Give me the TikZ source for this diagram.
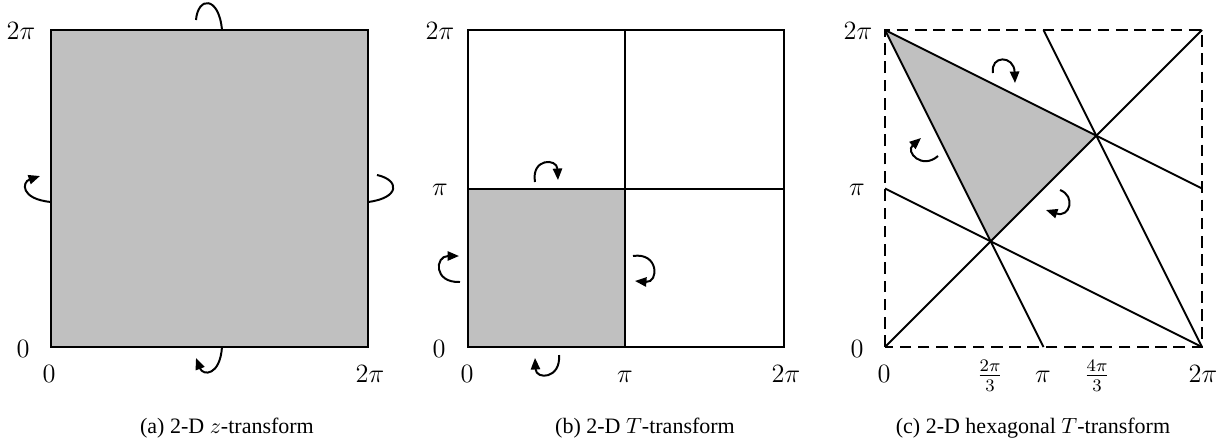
\documentclass[tikz,border=0pt]{standalone}
\usepackage[no-math]{fontspec}
\setmainfont{Liberation Serif}
\usetikzlibrary{arrows.meta,calc}
\definecolor{greyfill}{RGB}{192,192,192}
\begin{document}
\begin{tikzpicture}[x=0.4545pt,y=-0.4545pt,
  edge/.style={line width=0.9pt},
  rot/.style={line width=0.9pt},
  rota/.style={line width=0.9pt,-{Triangle[length=5.2pt,width=4.2pt]}},
  lab/.style={font=\fontsize{12}{14}\selectfont, anchor=base, inner sep=0pt},
  captext/.style={font=\fontsize{10}{12}\selectfont, anchor=base, inner sep=0pt},
  dashborder/.style={line width=0.9pt, dash pattern=on 5.3pt off 3pt}]
\useasboundingbox (0,0) rectangle (1221,442);

% ---------------- (a) ----------------
\coordinate (a00) at (51,347);
\coordinate (a22) at (368,30);
\fill[greyfill] (a00) rectangle (a22);
\draw[edge] (a00) rectangle (a22);
\node[lab] (aly2) at (21,39) {$2\pi$};
\node[lab] (aly0) at (23,357) {$0$};
\node[lab] (alx0) at (49,382) {$0$};
\node[lab] (alx2) at (370,382) {$2\pi$};
\draw[rot] (222,30) .. controls (219,-4) and (198,-4) .. (196,20);
\draw[rota] (222,347) .. controls (220,376) and (203,376) .. (196,358);
\draw[rota] (51,202) .. controls (20,199) and (22,182) .. (40,176);
\draw[rot] (368,202) .. controls (400,198) and (400,180) .. (377,175);
\node[captext] (capa) at (227,433) {(a) 2-D $z$-transform};

% ---------------- (b) ----------------
\coordinate (b00) at (468,347);
\coordinate (b11) at (625,189);
\coordinate (b22) at (784,30);
\fill[greyfill] (b00) rectangle (b11);
\draw[edge] (b00) rectangle (b22);
\draw[edge] (625,30) -- (625,347);
\draw[edge] (468,189) -- (784,189);
\node[lab] (bly2) at (440,39) {$2\pi$};
\node[lab] (bly1) at (440,195) {$\pi$};
\node[lab] (bly0) at (439,357) {$0$};
\node[lab] (blx0) at (467,382) {$0$};
\node[lab] (blx1) at (625,382) {$\pi$};
\node[lab] (blx2) at (786,382) {$2\pi$};
\draw[rota] (535,182) .. controls (531,158) and (557,158) .. (558,180);
\draw[rota] (460,282) .. controls (433,283) and (435,256) .. (459,256);
\draw[rota] (633,256) .. controls (659,252) and (659,283) .. (635,281);
\draw[rota] (559,355) .. controls (561,379) and (536,380) .. (535,358);
\node[captext] (capb) at (645,433) {(b) 2-D $T$-transform};

% ---------------- (c) ----------------
\coordinate (c00) at (885,347);
\coordinate (c20) at (1202,347);
\coordinate (c02) at (885,30);
\coordinate (c22) at (1202,30);
\coordinate (c01) at (885,188.5);
\coordinate (c21) at (1202,188.5);
\coordinate (c10) at (1043.5,347);
\coordinate (c12) at (1043.5,30);
\coordinate (p1) at ($(c00)!1/3!(c22)$);
\coordinate (p2) at ($(c00)!2/3!(c22)$);
\fill[greyfill] (c02) -- (p2) -- (p1) -- cycle;
\draw[dashborder] (c00) rectangle (c22);
\draw[edge] (c00) -- (c22);
\draw[edge] (c02) -- (c21);
\draw[edge] (c02) -- (c10);
\draw[edge] (c01) -- (c20);
\draw[edge] (c12) -- (c20);
\node[lab] (cly2) at (858,39) {$2\pi$};
\node[lab] (cly1) at (857,195) {$\pi$};
\node[lab] (cly0) at (857,357) {$0$};
\node[lab] (clx0) at (884,382) {$0$};
\node[lab] (clx23) at (990,382) {$\frac{2\pi}{3}$};
\node[lab] (clx1) at (1043,382) {$\pi$};
\node[lab] (clx43) at (1097,382) {$\frac{4\pi}{3}$};
\node[lab] (clx2) at (1203,382) {$2\pi$};
\draw[rota] (993,73) .. controls (990,55) and (1014,55) .. (1015,83);
\draw[rota] (938,156) .. controls (922,170) and (905,152) .. (921,138);
\draw[rota] (1060,190) .. controls (1076,196) and (1070,218) .. (1046,210);
\node[captext] (capc) at (1033,433) {(c) 2-D hexagonal $T$-transform};
\end{tikzpicture}
\end{document}
